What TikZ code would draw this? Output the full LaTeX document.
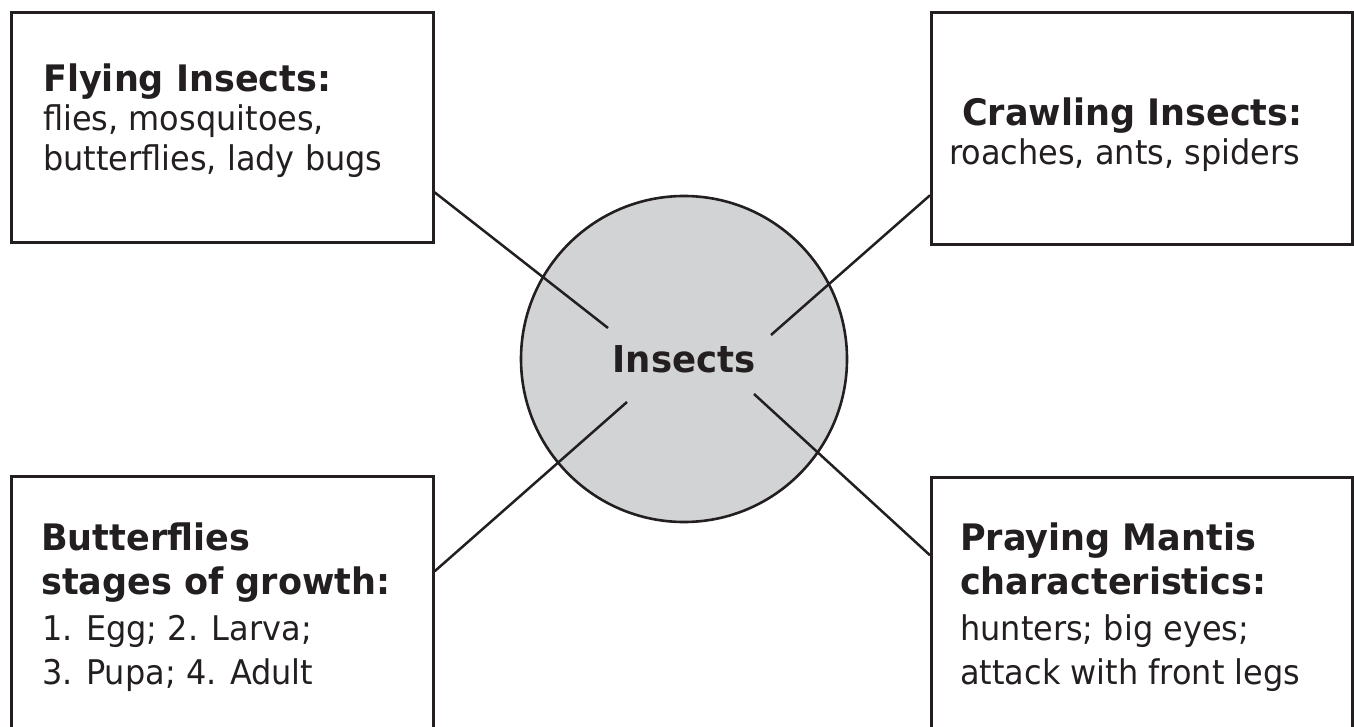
\documentclass[tikz,border=0pt]{standalone}
\usepackage{fontspec}
\setmainfont{DejaVu Sans}
\newfontfamily\bodyfont[FakeStretch=0.94]{DejaVu Sans}
\newfontfamily\headfont[FakeStretch=0.96]{DejaVu Sans Bold}
\definecolor{circfill}{RGB}{209,211,212}
\definecolor{ink}{RGB}{35,31,32}
\tikzset{
  box/.style={draw=ink, line width=2.6pt, anchor=north west, inner sep=0pt, minimum width=422pt},
  head/.style={font=\headfont\fontsize{36.5}{40}\selectfont, text=ink, anchor=base west, inner sep=0pt},
  body/.style={font=\bodyfont\fontsize{34}{38}\selectfont, text=ink, anchor=base west, inner sep=0pt},
  hub/.style={circle, draw=ink, line width=2.6pt, fill=circfill, minimum size=326pt, inner sep=0pt,
              font=\headfont\fontsize{37}{40}\selectfont, text=ink},
  conn/.style={draw=ink, line width=2.5pt},
}
\begin{document}
\begin{tikzpicture}[x=1pt,y=-1pt]
\useasboundingbox (0,0) rectangle (1354,727);
\clip (0,0) rectangle (1354,727);
% boxes
\node[box, minimum height=230pt] (tl) at (10,11) {};
\node[box, minimum width=421pt, minimum height=232pt] (tr) at (930,11) {};
\node[box, minimum height=280pt] (bl) at (10,475) {};
\node[box, minimum width=421pt, minimum height=280pt] (br) at (930,476) {};
% hub
\node[hub] (c) at (684,359) {Insects};
% connector ends inside the hub
\coordinate (ctl) at (608,328);
\coordinate (ctr) at (771,335);
\coordinate (cbl) at (627,402);
\coordinate (cbr) at (754,394);
\draw[conn] ([yshift=-65pt]tl.east) -- (ctl);
\draw[conn] ([yshift=-67pt]tr.west) -- (ctr);
\draw[conn] ([yshift=45pt]bl.east) -- (cbl);
\draw[conn] ([yshift=62pt]br.west) -- (cbr);
% texts
\node[head] (tl1) at (43,92) {Flying Insects:};
\node[body] (tl2) at (43,131) {flies, mosquitoes,};
\node[body] (tl3) at (43,171) {butterflies, lady bugs};
\node[head] (tr1) at (962,126) {Crawling Insects:};
\node[body] (tr2) at (949,165) {roaches, ants, spiders};
\node[head] (bl1) at (41,550) {Butterflies};
\node[head] (bl2) at (41,594) {stages of growth:};
\node[body] (bl3) at (42,640) {1. Egg; 2. Larva;};
\node[body] (bl4) at (42,684) {3. Pupa; 4. Adult};
\node[head] (br1) at (960,550) {Praying Mantis};
\node[head] (br2) at (960,594) {characteristics:};
\node[body] (br3) at (960,640) {hunters; big eyes;};
\node[body] (br4) at (960,684) {attack with front legs};
\end{tikzpicture}
\end{document}
